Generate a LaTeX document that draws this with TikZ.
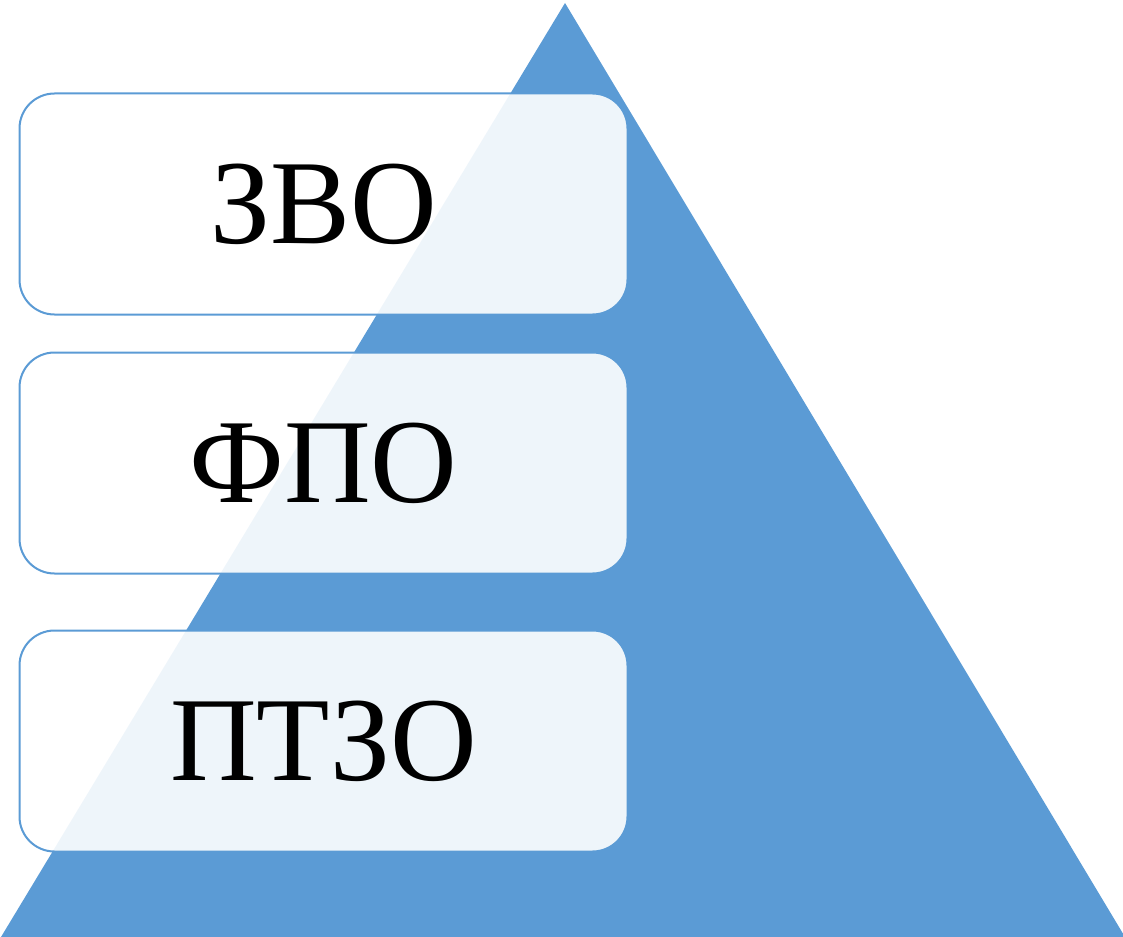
\documentclass[tikz,border=0pt]{standalone}
\usepackage{fontspec}
\setmainfont{Liberation Serif}
\definecolor{tri}{HTML}{5B9BD5}
\begin{document}
\begin{tikzpicture}[x=1pt,y=-1pt,
  level/.style={draw=tri, line width=2pt, fill=white, fill opacity=0.9, text opacity=1,
    rounded corners=35pt, minimum width=608pt, minimum height=221pt, inner sep=0pt,
    font=\fontsize{120}{120}\selectfont}]
\useasboundingbox (0,0) rectangle (1123,936);
\fill[tri] (565,3) coordinate (apex) -- (1125,937) coordinate (br) -- (1,937) coordinate (bl) -- cycle;
\node[level] (zvo) at (323.5,204) {ЗВО};
\node[level] (fpo) at (323.5,463) {ФПО};
\node[level] (ptzo) at (323.5,741) {ПТЗО};
\end{tikzpicture}
\end{document}
